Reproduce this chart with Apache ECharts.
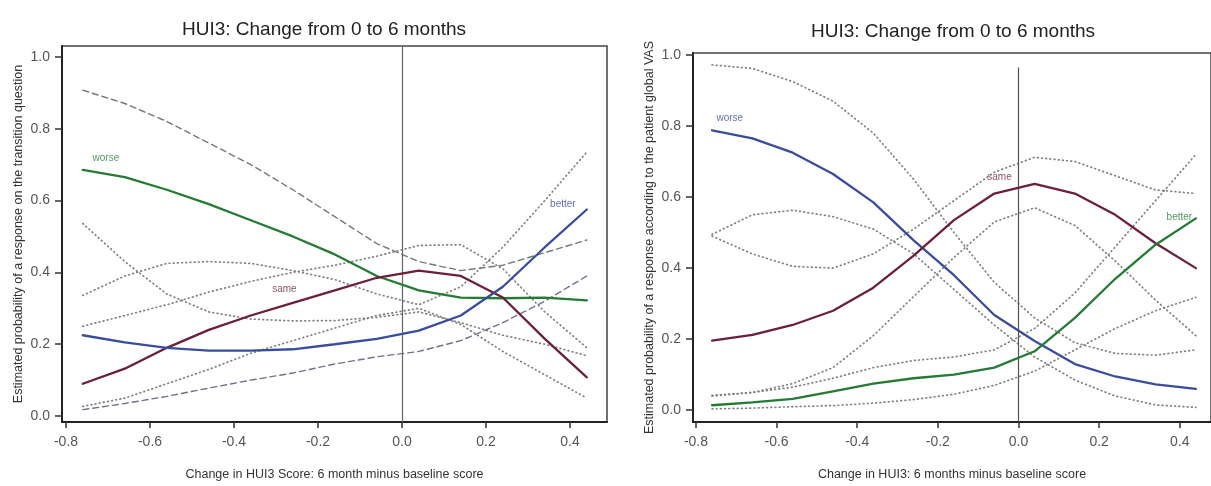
<!DOCTYPE html>
<html>
<head>
<meta charset="utf-8">
<script src="https://cdn.jsdelivr.net/npm/echarts@6/dist/echarts.min.js"></script>
<style>
html,body{margin:0;padding:0;background:#fff;}
#c{width:1211px;height:486px;}
</style>
</head>
<body>
<div id="c"></div>
<script>
// ---- data ----
const xVals = [-0.76,-0.66,-0.56,-0.46,-0.36,-0.26,-0.16,-0.06,0.04,0.14,0.24,0.34,0.44];
const tickVals = [-0.8,-0.6,-0.4,-0.2,0.0,0.2,0.4];
const yTickVals = [0.0,0.2,0.4,0.6,0.8,1.0];

// Left: transition question
const tWorse    = [0.685,0.665,0.63,0.59,0.545,0.50,0.45,0.39,0.35,0.33,0.328,0.33,0.322];
const tSame     = [0.09,0.132,0.19,0.24,0.28,0.315,0.35,0.385,0.405,0.39,0.33,0.215,0.108];
const tBetter   = [0.225,0.205,0.19,0.182,0.182,0.186,0.2,0.215,0.238,0.28,0.36,0.47,0.575];
const tWorseUp  = [0.907,0.87,0.82,0.76,0.70,0.63,0.555,0.48,0.43,0.405,0.42,0.455,0.49];
const tWorseLo  = [0.536,0.43,0.34,0.29,0.27,0.265,0.266,0.275,0.29,0.26,0.225,0.2,0.168];
const tSameUp   = [0.25,0.28,0.31,0.345,0.375,0.40,0.42,0.445,0.475,0.477,0.41,0.29,0.19];
const tSameLo   = [0.027,0.05,0.09,0.13,0.175,0.21,0.245,0.28,0.3,0.255,0.18,0.115,0.05];
const tBetterUp = [0.336,0.39,0.425,0.43,0.425,0.405,0.38,0.34,0.31,0.36,0.47,0.60,0.735];
const tBetterLo = [0.018,0.035,0.055,0.078,0.10,0.12,0.145,0.165,0.18,0.21,0.26,0.32,0.39];

// Right: patient global VAS
const vWorse    = [0.788,0.765,0.725,0.665,0.585,0.478,0.38,0.268,0.195,0.13,0.095,0.073,0.06];
const vSame     = [0.196,0.212,0.24,0.28,0.345,0.435,0.535,0.61,0.637,0.61,0.55,0.47,0.40];
const vBetter   = [0.014,0.022,0.032,0.053,0.075,0.09,0.1,0.12,0.166,0.26,0.37,0.466,0.54];
const vWorseUp  = [0.972,0.962,0.925,0.87,0.78,0.65,0.50,0.36,0.26,0.19,0.16,0.155,0.17];
const vWorseLo  = [0.495,0.55,0.563,0.545,0.51,0.44,0.34,0.24,0.15,0.085,0.04,0.015,0.008];
const vSameUp   = [0.49,0.44,0.405,0.40,0.44,0.51,0.59,0.67,0.712,0.70,0.66,0.62,0.61];
const vSameLo   = [0.04,0.05,0.075,0.12,0.21,0.32,0.43,0.53,0.57,0.52,0.42,0.31,0.21];
const vBetterUp = [0.042,0.05,0.065,0.09,0.12,0.14,0.15,0.17,0.23,0.33,0.46,0.59,0.72];
const vBetterLo = [0.004,0.006,0.01,0.013,0.02,0.03,0.045,0.07,0.11,0.17,0.23,0.28,0.318];

const titleText = 'HUI3: Change from 0 to 6 months';
const xNameL = 'Change in HUI3 Score: 6 month minus baseline score';
const xNameR = 'Change in HUI3: 6 months minus baseline score';
const yNameL = 'Estimated probability of a response on the transition question';
const yNameR = 'Estimated probability of a response according to the patient global VAS';
const catNames = ['worse','same','better'];

// ---- styling ----
const FONT = "'Liberation Sans', Arial, sans-serif";
const GREEN = '#257a34', MAROON = '#6b1f38', BLUE = '#3a4c9c', GRAY = '#808080';
const DOT = [0.8,3.4], DASH = [6,4];

function pairs(arr){ return xVals.map((x,i)=>[x, arr[i]]); }
function ln(idx, arr, color, width, type){
  return {type:'line', xAxisIndex:idx, yAxisIndex:idx, data:pairs(arr), symbol:'none',
    smooth:false, silent:true, z: width>1.8?5:3,
    lineStyle:{color:color, width:width, type:type||'solid', cap:'round'}};
}
function labelSeries(idx, x, y, text, color){
  return {type:'scatter', xAxisIndex:idx, yAxisIndex:idx, symbolSize:0, silent:true,
    data:[[x,y]], label:{show:true, position:'inside', formatter:text, color:color,
      fontFamily:FONT, fontSize:10}};
}
function xAxis(idx, min, max, name){
  return {type:'value', gridIndex:idx, min:min, max:max, name:name, nameLocation:'middle', nameGap:46,
    nameTextStyle:{fontFamily:FONT, fontSize:12.5, color:'#333'},
    axisLine:{show:true, onZero:false, lineStyle:{color:'#222', width:2}},
    axisTick:{show:true, customValues:tickVals, length:6, lineStyle:{color:'#333', width:1.5}},
    axisLabel:{show:true, customValues:tickVals, formatter:v=>v.toFixed(1), margin:13,
      fontFamily:FONT, fontSize:14, color:'#555'},
    splitLine:{show:false}};
}
function yAxis(idx, min, max, name, gap){
  return {type:'value', gridIndex:idx, min:min, max:max, name:name, nameLocation:'middle', nameGap:gap,
    nameTextStyle:{fontFamily:FONT, fontSize:12.5, color:'#333'},
    axisLine:{show:true, onZero:false, lineStyle:{color:'#222', width:2}},
    axisTick:{show:true, customValues:yTickVals, length:7, lineStyle:{color:'#333', width:1.5}},
    axisLabel:{show:true, customValues:yTickVals, formatter:v=>v.toFixed(1), margin:12,
      fontFamily:FONT, fontSize:14, color:'#555'},
    splitLine:{show:false}};
}

const chart = echarts.init(document.getElementById('c'), null, {renderer:'canvas'});
const option = {
  backgroundColor:'#fff',
  animation:false,
  title:[
    {text:titleText, left:319, top:15, textAlign:'center', textStyle:{fontFamily:FONT, fontSize:19, fontWeight:'normal', color:'#222'}},
    {text:titleText, left:948, top:17, textAlign:'center', textStyle:{fontFamily:FONT, fontSize:19, fontWeight:'normal', color:'#222'}}
  ],
  grid:[
    {left:62, top:46, width:545, height:382, show:true, borderColor:'#444', borderWidth:1.5, backgroundColor:'transparent'},
    {left:693, top:53, width:522, height:376, show:true, borderColor:'#444', borderWidth:1.5, backgroundColor:'transparent'}
  ],
  xAxis:[ xAxis(0, -0.8095, 0.488, xNameL), xAxis(1, -0.8073, 0.4775, xNameR) ],
  yAxis:[ yAxis(0, -0.0164, 1.030, yNameL, 37), yAxis(1, -0.0331, 1.0055, yNameR, 37) ],
  series:[
    // left CIs
    ln(0, tWorseUp, '#6f7d70', 1.4, DASH),
    ln(0, tWorseLo, GRAY, 1.7, DOT),
    ln(0, tSameUp, GRAY, 1.7, DOT),
    ln(0, tSameLo, GRAY, 1.7, DOT),
    ln(0, tBetterUp, GRAY, 1.7, DOT),
    ln(0, tBetterLo, '#6d7290', 1.4, DASH),
    // left main
    Object.assign(ln(0, tWorse, GREEN, 2.3), {markLine:{silent:true, symbol:'none', label:{show:false},
      lineStyle:{color:'#666', width:1.2, type:'solid'}, data:[[{coord:[0,-0.0164]},{coord:[0,1.030]}]]}}),
    ln(0, tSame, MAROON, 2.3),
    ln(0, tBetter, BLUE, 2.3),
    labelSeries(0, -0.705, 0.718, catNames[0], GREEN),
    labelSeries(0, -0.28, 0.353, catNames[1], MAROON),
    labelSeries(0, 0.383, 0.589, catNames[2], BLUE),
    // right CIs
    ln(1, vWorseUp, GRAY, 1.7, DOT),
    ln(1, vWorseLo, GRAY, 1.7, DOT),
    ln(1, vSameUp, GRAY, 1.7, DOT),
    ln(1, vSameLo, GRAY, 1.7, DOT),
    ln(1, vBetterUp, GRAY, 1.7, DOT),
    ln(1, vBetterLo, GRAY, 1.7, DOT),
    // right main
    Object.assign(ln(1, vWorse, BLUE, 2.3), {markLine:{silent:true, symbol:'none', label:{show:false},
      lineStyle:{color:'#555', width:1.2, type:'solid'}, data:[[{coord:[0,-0.0331]},{coord:[0,0.965]}]]}}),
    ln(1, vSame, MAROON, 2.3),
    ln(1, vBetter, GREEN, 2.3),
    labelSeries(1, -0.716, 0.823, catNames[0], BLUE),
    labelSeries(1, -0.047, 0.657, catNames[1], MAROON),
    labelSeries(1, 0.399, 0.544, catNames[2], GREEN)
  ]
};
chart.setOption(option);
</script>
</body>
</html>
